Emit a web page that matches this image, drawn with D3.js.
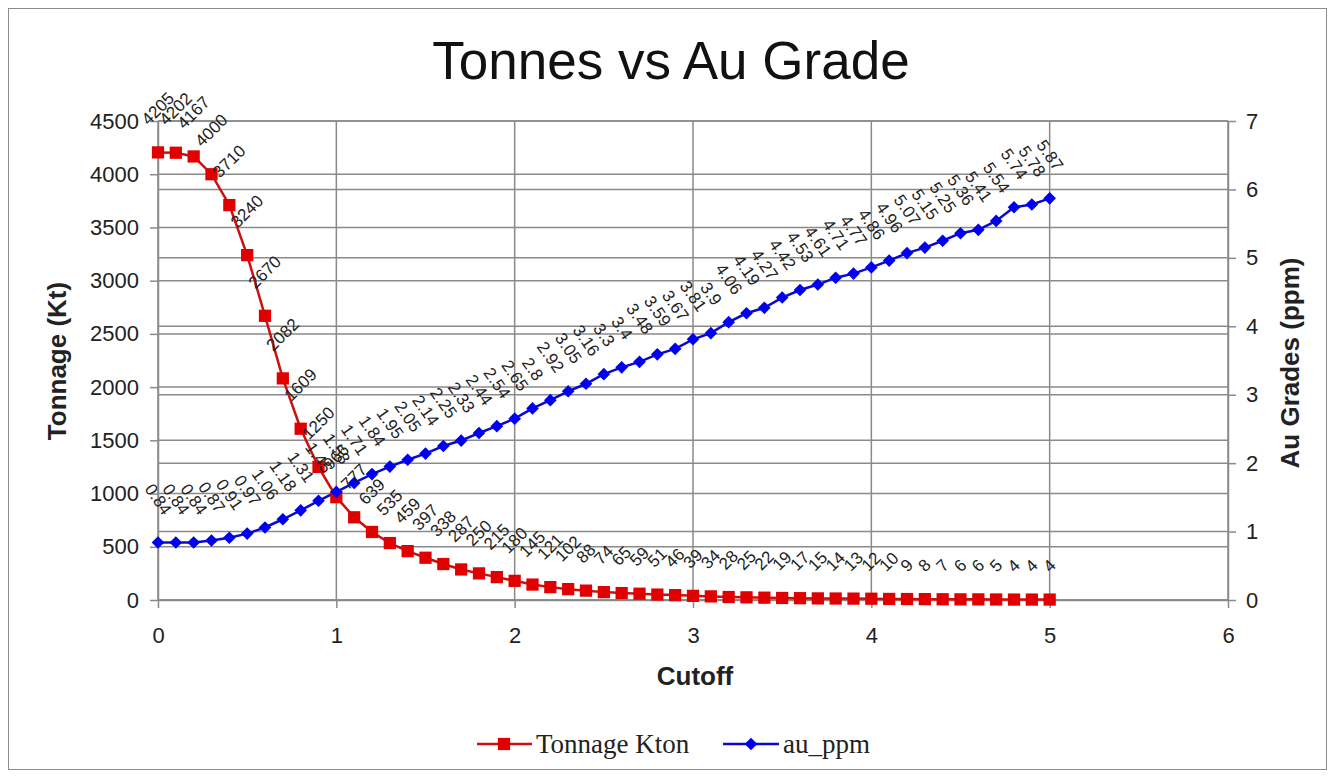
<!DOCTYPE html>
<html><head><meta charset="utf-8">
<script src="https://cdn.jsdelivr.net/npm/d3@7"></script>
<style>
html,body{margin:0;padding:0;background:#fff;}
svg{display:block;font-family:"Liberation Sans",Arial,sans-serif;}
</style></head>
<body>
<svg id="c" width="1334" height="778"></svg>
<script>
const cutoff = [0,0.1,0.2,0.3,0.4,0.5,0.6,0.7,0.8,0.9,1.0,1.1,1.2,1.3,1.4,1.5,1.6,1.7,1.8,1.9,2.0,2.1,2.2,2.3,2.4,2.5,2.6,2.7,2.8,2.9,3.0,3.1,3.2,3.3,3.4,3.5,3.6,3.7,3.8,3.9,4.0,4.1,4.2,4.3,4.4,4.5,4.6,4.7,4.8,4.9,5.0];
const tonnageKton = [4205,4202,4167,4000,3710,3240,2670,2082,1609,1250,966,777,639,535,459,397,338,287,250,215,180,145,121,102,88,74,65,59,51,46,39,34,28,25,22,19,17,15,14,13,12,10,9,8,7,6,6,5,4,4,4];
const auPpm = [0.84,0.84,0.84,0.87,0.91,0.97,1.06,1.18,1.31,1.45,1.58,1.71,1.84,1.95,2.05,2.14,2.25,2.33,2.44,2.54,2.65,2.8,2.92,3.05,3.16,3.3,3.4,3.48,3.59,3.67,3.81,3.9,4.06,4.19,4.27,4.42,4.53,4.61,4.71,4.77,4.86,4.96,5.07,5.15,5.25,5.36,5.41,5.54,5.74,5.78,5.87];
const xTicks = [0,1,2,3,4,5,6];
const leftTicks = [0,500,1000,1500,2000,2500,3000,3500,4000,4500];
const rightTicks = [0,1,2,3,4,5,6,7];
const titleText = "Tonnes vs Au Grade";
const xTitle = "Cutoff", yLeftTitle = "Tonnage (Kt)", yRightTitle = "Au Grades (ppm)";
const seriesNames = ["Tonnage Kton","au_ppm"];

const svg = d3.select("#c");
svg.append("rect").attr("x",8.5).attr("y",8.5).attr("width",1318).attr("height",761)
  .attr("fill","#fff").attr("stroke","#8c8c8c").attr("stroke-width",1);

const L=158, R=1228, T=121, B=600;
const x = d3.scaleLinear().domain([0,6]).range([L,R]);
const yL = d3.scaleLinear().domain([0,4500]).range([B,T]);
const yR = d3.scaleLinear().domain([0,7]).range([B,T]);
const grid="#8a8a8a";

// gridlines
const g = svg.append("g");
g.selectAll(".hl").data(leftTicks).join("line").attr("x1",L).attr("x2",R)
  .attr("y1",d=>yL(d)).attr("y2",d=>yL(d)).attr("stroke",grid).attr("stroke-width",1.5);
g.selectAll(".hr").data(rightTicks).join("line").attr("x1",L).attr("x2",R)
  .attr("y1",d=>yR(d)).attr("y2",d=>yR(d)).attr("stroke",grid).attr("stroke-width",1.5);
g.selectAll(".v").data(xTicks).join("line").attr("y1",T).attr("y2",B)
  .attr("x1",d=>x(d)).attr("x2",d=>x(d)).attr("stroke",grid).attr("stroke-width",1.5);

// axes
const fmt = d3.format("d");
const axL = svg.append("g").attr("transform",`translate(${L},0)`)
  .call(d3.axisLeft(yL).tickValues(leftTicks).tickFormat(fmt).tickSize(8).tickPadding(11).tickSizeOuter(0));
const axR = svg.append("g").attr("transform",`translate(${R},0)`)
  .call(d3.axisRight(yR).tickValues(rightTicks).tickFormat(fmt).tickSize(8).tickPadding(10).tickSizeOuter(0));
const axB = svg.append("g").attr("transform",`translate(0,${B})`)
  .call(d3.axisBottom(x).tickValues(xTicks).tickFormat(fmt).tickSize(8).tickPadding(19).tickSizeOuter(0));
[axL,axR,axB].forEach(a=>{
  a.selectAll("path,line").attr("stroke",grid).attr("stroke-width",1.5);
  a.selectAll("text").attr("font-size",22).attr("fill","#222").attr("font-family","Liberation Sans, Arial, sans-serif");
});

// titles
svg.append("text").attr("x",671).attr("y",79).attr("text-anchor","middle")
  .attr("font-size",53).attr("fill","#111").text(titleText);
svg.append("text").attr("x",695).attr("y",685).attr("text-anchor","middle")
  .attr("font-size",26).attr("font-weight","bold").attr("fill","#222").text(xTitle);
svg.append("text").attr("transform","translate(57,361) rotate(-90)").attr("text-anchor","middle")
  .attr("dominant-baseline","central")
  .attr("font-size",26).attr("font-weight","bold").attr("fill","#222").text(yLeftTitle);
svg.append("text").attr("transform","translate(1290,363) rotate(-90)").attr("text-anchor","middle")
  .attr("dominant-baseline","central")
  .attr("font-size",26).attr("font-weight","bold").attr("fill","#222").text(yRightTitle);

const red="#e00000", redLine="#cc1010", blue="#0000ee", blueLine="#0a0acc";
const ton = cutoff.map((c,i)=>({c, v:tonnageKton[i]}));
const au = cutoff.map((c,i)=>({c, v:auPpm[i]}));

svg.append("path").datum(ton).attr("fill","none").attr("stroke",redLine).attr("stroke-width",2.5)
  .attr("d",d3.line().x(d=>x(d.c)).y(d=>yL(d.v)));
svg.append("path").datum(au).attr("fill","none").attr("stroke",blueLine).attr("stroke-width",2.5)
  .attr("d",d3.line().x(d=>x(d.c)).y(d=>yR(d.v)));

svg.selectAll(".sq").data(ton).join("path")
  .attr("transform",d=>`translate(${x(d.c)},${yL(d.v)})`)
  .attr("d",d3.symbol(d3.symbolSquare,150)).attr("fill",red);
svg.selectAll(".dm").data(au).join("path")
  .attr("transform",d=>`translate(${x(d.c)},${yR(d.v)}) rotate(45)`)
  .attr("d",d3.symbol(d3.symbolSquare,80)).attr("fill",blue);

// data labels
function labels(data, yS, angle, f){
  const a = angle*Math.PI/180, h=12, gap=26;
  const grp = svg.append("g");
  data.forEach(d=>{
    const t = grp.append("text").attr("font-size",17).attr("fill","#222")
      .attr("text-anchor","middle").attr("dominant-baseline","central").text(f(d.v));
    const len = t.node().getComputedTextLength();
    const bh = len*Math.abs(Math.sin(a)) + h*Math.abs(Math.cos(a));
    const cx = x(d.c), cy = yS(d.v) - gap - bh/2;
    t.attr("transform",`translate(${cx},${cy}) rotate(${angle})`);
  });
}
labels(ton, yL, -45, v=>String(v));
labels(au, yR, 55, v=>String(v));

// legend
const lg = svg.append("g");
lg.append("line").attr("x1",477).attr("x2",532).attr("y1",744).attr("y2",744).attr("stroke",redLine).attr("stroke-width",2.5);
lg.append("path").attr("transform","translate(504,744)").attr("d",d3.symbol(d3.symbolSquare,150)).attr("fill",red);
lg.append("text").attr("x",536).attr("y",753).attr("font-size",27).attr("font-family","Liberation Serif, serif").attr("fill","#222").text(seriesNames[0]);
lg.append("line").attr("x1",723).attr("x2",779).attr("y1",744).attr("y2",744).attr("stroke",blueLine).attr("stroke-width",2.5);
lg.append("path").attr("transform","translate(751,744) rotate(45)").attr("d",d3.symbol(d3.symbolSquare,80)).attr("fill",blue);
lg.append("text").attr("x",783).attr("y",753).attr("font-size",27).attr("font-family","Liberation Serif, serif").attr("fill","#222").text(seriesNames[1]);
</script>
</body></html>
